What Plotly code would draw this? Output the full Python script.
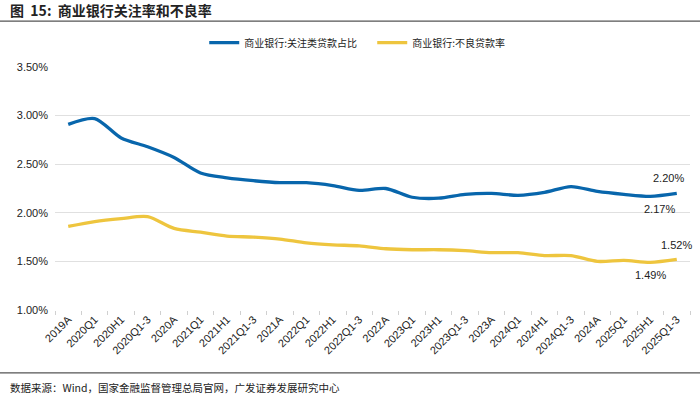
import plotly.graph_objects as go

categories = ["2019A", "2020Q1", "2020H1", "2020Q1-3", "2020A", "2021Q1", "2021H1", "2021Q1-3",
              "2021A", "2022Q1", "2022H1", "2022Q1-3", "2022A", "2023Q1", "2023H1", "2023Q1-3",
              "2023A", "2024Q1", "2024H1", "2024Q1-3", "2024A", "2025Q1", "2025H1", "2025Q1-3"]
special_mention = [2.91, 2.97, 2.77, 2.68, 2.57, 2.41, 2.36, 2.33, 2.31, 2.31, 2.28, 2.23, 2.25,
                   2.16, 2.15, 2.19, 2.20, 2.18, 2.21, 2.27, 2.22, 2.19, 2.17, 2.20]
npl = [1.86, 1.91, 1.94, 1.96, 1.84, 1.80, 1.76, 1.75, 1.73, 1.69, 1.67, 1.66, 1.63,
       1.62, 1.62, 1.61, 1.59, 1.59, 1.56, 1.56, 1.50, 1.51, 1.49, 1.52]
y_ticks = [1.0, 1.5, 2.0, 2.5, 3.0, 3.5]

name_blue = "商业银行:关注类贷款占比"
name_yellow = "商业银行:不良贷款率"
BLUE = "#0866AC"
YELLOW = "#EEC53E"
CJK = "Noto Sans CJK SC"

fig = go.Figure()
fig.add_trace(go.Scatter(x=categories, y=special_mention, name=name_blue, mode="lines",
                         line=dict(color=BLUE, width=3.3, shape="spline", smoothing=0.8)))
fig.add_trace(go.Scatter(x=categories, y=npl, name=name_yellow, mode="lines",
                         line=dict(color=YELLOW, width=3.3, shape="spline", smoothing=0.8)))

lab_font = dict(family="Liberation Sans, Arial", size=11, color="#222")
fig.add_annotation(x=categories[-1], y=special_mention[-1], text=f"{special_mention[-1]:.2f}%",
                   showarrow=False, yshift=15, xshift=-8, font=lab_font)
fig.add_annotation(x=categories[-2], y=special_mention[-2], text=f"{special_mention[-2]:.2f}%",
                   showarrow=False, yshift=-13, xshift=9, font=lab_font)
fig.add_annotation(x=categories[-1], y=npl[-1], text=f"{npl[-1]:.2f}%",
                   showarrow=False, yshift=14, font=lab_font)
fig.add_annotation(x=categories[-2], y=npl[-2], text=f"{npl[-2]:.2f}%",
                   showarrow=False, yshift=-13, font=lab_font)

# title and source
fig.add_annotation(xref="paper", yref="paper", x=-0.074, y=1.235, xanchor="left", yanchor="middle",
                   text="<b>图  15:  商业银行关注率和不良率</b>", showarrow=False,
                   font=dict(family=CJK, size=14, color="#222"))
fig.add_annotation(xref="paper", yref="paper", x=-0.074, y=-0.317, xanchor="left", yanchor="middle",
                   text="数据来源：Wind，国家金融监督管理总局官网，广发证券发展研究中心", showarrow=False,
                   font=dict(family=CJK, size=10.5, color="#222"))
fig.add_shape(type="line", xref="paper", yref="paper", x0=-0.087, x1=1.016, y0=1.189, y1=1.189,
              line=dict(color="#555", width=1.3))
fig.add_shape(type="line", xref="paper", yref="paper", x0=-0.087, x1=1.016, y0=-0.259, y1=-0.259,
              line=dict(color="#555", width=1.3))

fig.update_layout(
    width=700, height=399,
    margin=dict(l=55, r=10, t=67, b=89),
    paper_bgcolor="white", plot_bgcolor="white",
    showlegend=True,
    legend=dict(orientation="h", x=0.235, y=1.10, xanchor="left", yanchor="middle",
                font=dict(family=CJK, size=10, color="#222"), itemwidth=30,
                bgcolor="rgba(0,0,0,0)", entrywidth=123),
    xaxis=dict(type="category", range=[-0.5, len(categories) - 0.5], tickangle=-45,
               tickson="boundaries", ticks="outside", ticklen=4, tickcolor="#d0d0d0",
               showgrid=False, showline=False, zeroline=False,
               tickfont=dict(family="Liberation Sans, Arial", size=11, color="#222")),
    yaxis=dict(range=[1.0, 3.5], tickvals=y_ticks,
               ticktext=[f"{v:.2f}%" for v in y_ticks],
               showgrid=True, gridcolor="#e0e0e0", gridwidth=1.2, zeroline=False, showline=False,
               ticks="", ticklabelstandoff=6,
               tickfont=dict(family="Liberation Sans, Arial", size=11, color="#222")),
)

fig.write_html("out.html", config={"displayModeBar": False},
               post_script="document.body.style.margin='0';")
